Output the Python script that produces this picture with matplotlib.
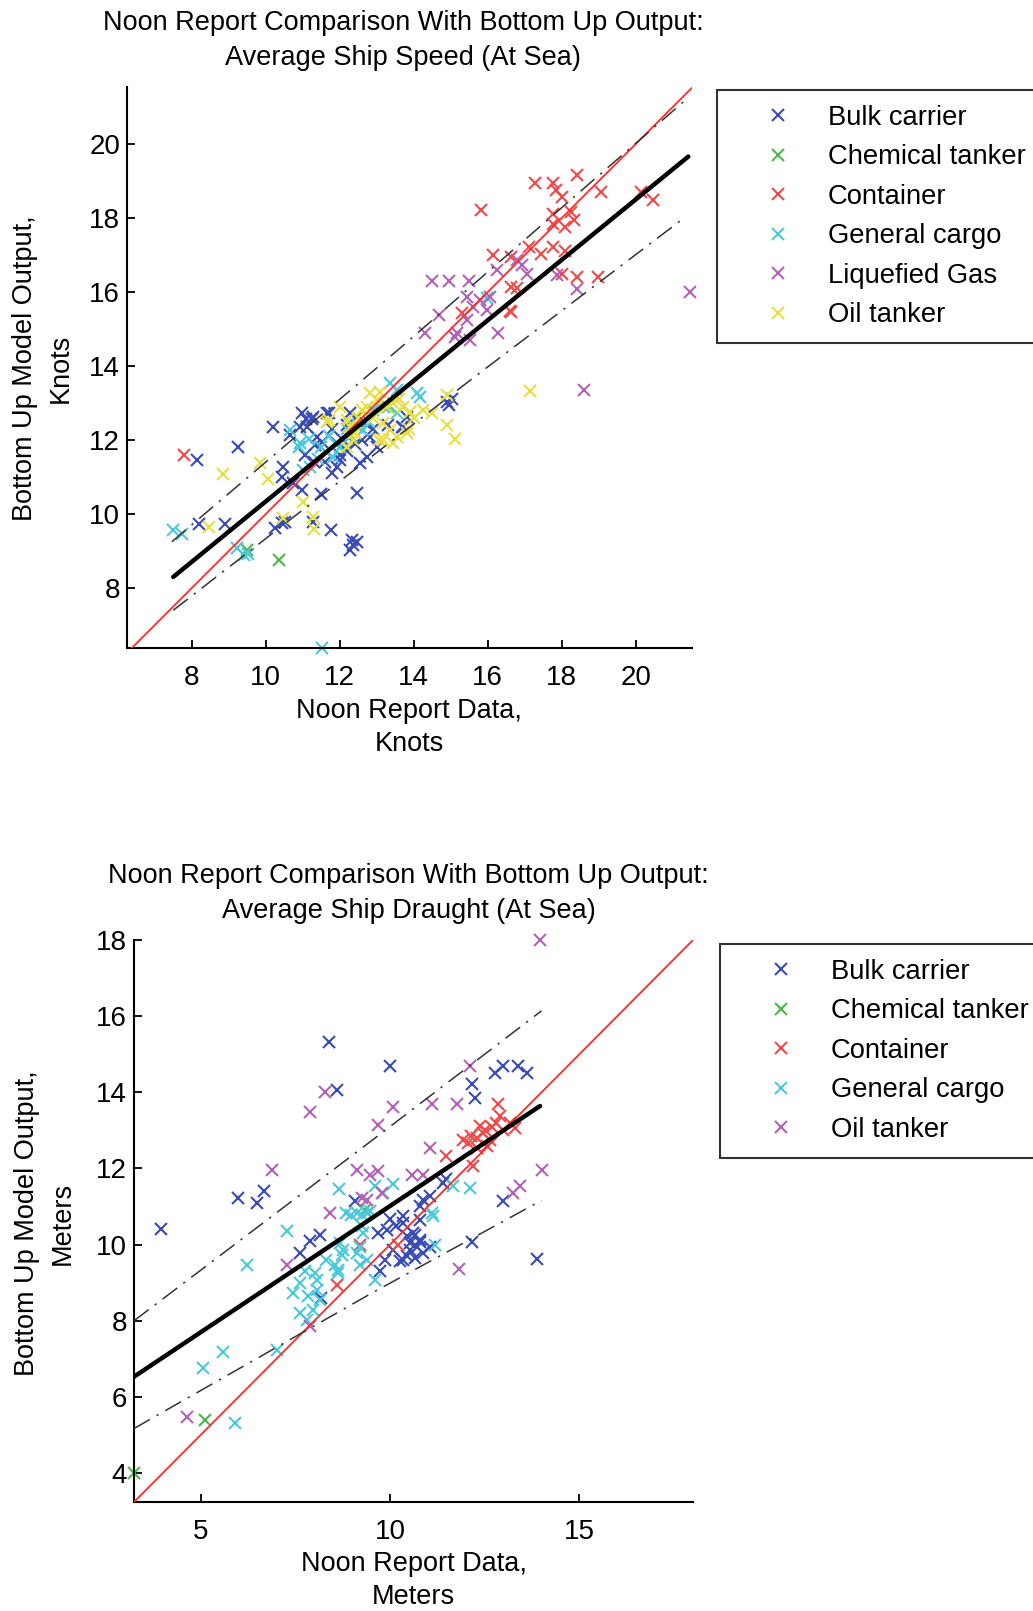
import matplotlib
matplotlib.use('Agg')
import matplotlib.pyplot as plt

plt.rcParams['font.family'] = ['Liberation Sans', 'DejaVu Sans']

# ---------------- data: speed (top) ----------------
speed_categories = ['Bulk carrier', 'Chemical tanker', 'Container', 'General cargo', 'Liquefied Gas', 'Oil tanker']

bulk_speed_x = [8.13, 9.26, 10.19, 10.46, 8.2, 8.9, 10.25, 10.52, 10.74, 10.97, 11.49, 11.29, 11.76, 12.32, 12.37,
                12.46, 12.28, 12.46, 10.97, 11.1, 11.29, 11.65, 11.25, 10.93, 11.11, 10.66, 11.7, 11.38, 11.52, 11.34,
                11.92, 12.1, 10.44, 11.79, 11.92, 10.44, 12.28, 12.46, 12.69, 12.6, 12.82, 13.0, 12.55, 12.73, 13.68,
                13.81, 14.9, 15.03, 14.94, 13.72, 12.2, 11.6, 12.0, 11.05, 12.0, 12.4, 11.8, 12.9, 13.3, 11.3, 12.2]
bulk_speed_y = [11.47, 11.8, 12.34, 11.26, 9.72, 9.72, 9.61, 9.79, 10.83, 10.65, 10.54, 9.79, 9.56, 9.29, 9.16,
                9.25, 9.02, 10.56, 12.72, 12.58, 12.61, 12.72, 12.58, 12.36, 12.36, 12.13, 12.72, 12.09, 11.95, 11.86,
                11.91, 12.0, 11.01, 11.1, 11.28, 9.75, 12.72, 12.63, 12.45, 12.0, 12.09, 11.82, 11.37, 11.55, 12.36,
                12.63, 13.03, 13.12, 12.94, 12.36, 11.7, 11.4, 11.45, 11.6, 11.6, 11.9, 12.3, 12.3, 12.4, 11.4, 12.4]

chem_speed_x = [9.48, 10.37, 13.3]
chem_speed_y = [9.02, 8.75, 12.9]

cont_speed_x = [7.8, 17.28, 17.77, 18.42, 17.85, 18.01, 19.07, 15.82, 17.77, 18.26, 18.34, 17.77, 18.1, 17.12,
                17.77, 17.45, 18.1, 16.14, 16.63, 16.63, 16.8, 18.42, 18.99, 18.01, 16.63, 20.13, 20.46, 15.3, 16.6]
cont_speed_y = [11.6, 18.95, 18.95, 19.16, 18.75, 18.57, 18.71, 18.21, 18.12, 18.17, 17.94, 17.85, 17.76, 17.22,
                17.22, 17.02, 17.11, 17.0, 16.95, 16.14, 16.1, 16.41, 16.41, 16.5, 15.47, 18.71, 18.49, 15.42, 15.5]

gen_speed_x = [7.5, 7.73, 9.21, 9.53, 9.4, 11.51, 10.65, 10.93, 10.89, 11.16, 11.65, 11.83, 11.2, 11.02, 12.46,
               12.64, 13.36, 13.54, 13.54, 14.08, 14.17, 15.97, 12.0, 12.3, 11.4, 11.7, 12.8, 11.9, 12.2, 12.5,
               11.5, 12.9, 13.2]
gen_speed_y = [9.58, 9.47, 9.07, 8.93, 8.9, 6.37, 12.27, 11.91, 11.82, 12.04, 11.64, 11.55, 11.28, 11.19, 12.36,
               12.27, 13.53, 13.35, 12.72, 13.26, 13.17, 15.83, 11.8, 12.1, 11.5, 12.1, 12.5, 11.9, 12.3, 12.4,
               11.8, 12.8, 12.9]

lng_speed_x = [14.49, 14.94, 15.48, 16.78, 16.92, 16.24, 17.05, 17.86, 16.06, 15.79, 15.43, 15.61, 15.97, 14.67,
               14.31, 15.12, 15.52, 16.29, 21.47, 18.42, 15.43, 18.6, 15.17]
lng_speed_y = [16.3, 16.3, 16.3, 16.87, 16.73, 16.6, 16.5, 16.46, 15.87, 15.78, 15.87, 15.6, 15.51, 15.38,
               14.88, 14.79, 14.7, 14.88, 16.01, 16.07, 15.24, 13.36, 14.88]

oil_speed_x = [8.85, 9.84, 10.05, 8.47, 10.47, 11.01, 11.27, 11.31, 11.65, 11.7, 12.01, 12.19, 12.28, 12.37, 12.19,
               12.82, 13.0, 12.73, 13.27, 13.45, 13.72, 13.9, 13.18, 13.36, 13.54, 13.81, 14.26, 14.49, 13.45, 13.05,
               13.18, 14.9, 14.9, 15.12, 17.13, 13.86, 12.6, 13.1, 12.4, 12.9, 13.6, 14.0, 12.5]
oil_speed_y = [11.07, 11.37, 10.96, 9.64, 9.88, 10.33, 9.93, 9.59, 12.49, 12.54, 12.9, 12.54, 12.36, 12.0, 11.82,
               13.26, 13.08, 12.9, 12.9, 12.99, 12.9, 12.76, 12.45, 12.27, 12.09, 12.18, 12.81, 12.72, 11.91, 12.0,
               12.0, 13.21, 12.4, 12.04, 13.33, 12.31, 12.8, 13.3, 12.2, 12.6, 13.1, 12.6, 12.6]

speed_fit_x = [7.5, 21.42]
speed_fit_y = [8.3, 19.66]
speed_upper_x = [7.46, 13.72, 21.29]
speed_upper_y = [9.25, 14.56, 21.14]
speed_lower_x = [7.5, 15.53, 21.29]
speed_lower_y = [7.4, 13.62, 17.99]

# ---------------- data: draught (bottom) ----------------
draught_categories = ['Bulk carrier', 'Chemical tanker', 'Container', 'General cargo', 'Oil tanker']

bulk_dr_x = [8.39, 8.61, 10.0, 5.99, 6.48, 6.67, 9.08, 12.77, 12.99, 13.39, 13.61, 12.16, 12.24, 12.99, 3.94,
             12.16, 13.87, 10.66, 10.79, 10.53, 10.35, 10.66, 10.88, 11.06, 10.79, 10.35, 8.15, 7.88, 7.62, 8.19,
             9.69, 9.91, 10.17, 10.35, 10.0, 10.44, 10.61, 10.79, 10.7, 10.53, 9.87, 9.73, 10.09, 10.26, 10.44,
             10.79, 10.88, 11.05, 11.41, 11.49]
bulk_dr_y = [15.33, 14.06, 14.69, 11.23, 11.08, 11.4, 11.14, 14.52, 14.69, 14.69, 14.52, 14.21, 13.86, 11.14, 10.41,
             10.08, 9.62, 10.26, 10.08, 9.86, 9.6, 9.65, 9.78, 9.95, 10.65, 10.74, 10.26, 10.09, 9.78, 8.6,
             10.3, 10.39, 10.48, 10.57, 10.66, 10.22, 10.3, 10.13, 9.95, 10.04, 9.6, 9.3, 9.87, 9.56, 9.69,
             11.01, 11.18, 11.27, 11.62, 11.71]

chem_dr_x = [5.11, 3.24, 9.35]
chem_dr_y = [5.39, 3.99, 10.9]

cont_dr_x = [12.86, 11.49, 11.93, 12.15, 12.37, 12.46, 12.64, 12.81, 12.99, 13.17, 12.9, 13.3, 12.07, 12.55, 12.29,
             12.2, 8.59, 12.5, 12.7, 12.3, 9.2, 10.2]
cont_dr_y = [13.68, 12.32, 12.76, 12.85, 13.11, 12.94, 12.76, 13.2, 13.02, 13.2, 13.38, 13.07, 12.67, 12.59, 12.8,
             12.06, 8.95, 13.0, 13.1, 12.55, 10.0, 10.0]

gen_dr_x = [8.64, 9.6, 10.09, 9.82, 12.11, 8.85, 8.98, 9.12, 9.25, 9.38, 9.47, 7.27, 7.75, 8.02, 8.06, 7.62, 7.44,
            7.84, 8.06, 7.97, 7.62, 7.8, 8.15, 8.63, 11.14, 11.19, 11.67, 9.25, 9.29, 9.2, 9.12, 9.38, 9.2, 8.72,
            8.68, 8.76, 8.32, 8.54, 8.63, 9.6, 6.22, 5.6, 5.05, 7.01, 5.91, 11.1]
gen_dr_y = [11.45, 11.54, 11.58, 11.36, 11.49, 10.83, 10.79, 10.83, 10.79, 10.83, 10.87, 10.35, 9.3, 9.25, 9.08, 8.99,
            8.73, 8.64, 8.81, 8.29, 8.2, 8.02, 8.55, 9.34, 10.74, 9.99, 11.53, 10.48, 10.3, 9.95, 9.78, 9.6, 9.47,
            9.73, 10.04, 9.87, 9.6, 9.47, 9.25, 9.08, 9.47, 7.19, 6.75, 7.23, 5.32, 10.83]

oil_dr_x = [8.28, 7.89, 10.09, 9.67, 6.89, 9.12, 9.47, 9.69, 9.78, 9.25, 9.38, 13.96, 12.11, 11.1, 11.76, 11.06,
            10.57, 10.88, 14.0, 13.26, 13.43, 8.42, 7.27, 11.83, 7.88, 4.63]
oil_dr_y = [14.01, 13.47, 13.62, 13.13, 11.97, 11.97, 11.84, 11.93, 11.36, 11.23, 11.18, 18.0, 14.69, 13.68, 13.68,
            12.54, 11.84, 11.84, 11.97, 11.36, 11.54, 10.83, 9.47, 9.36, 7.85, 5.48]

draught_fit_x = [3.24, 13.96]
draught_fit_y = [6.53, 13.64]
draught_upper_x = [3.24, 9.29, 14.0]
draught_upper_y = [8.0, 12.56, 16.14]
draught_lower_x = [3.24, 9.47, 14.0]
draught_lower_y = [5.17, 8.7, 11.16]

colors = ['#3a4cb4', '#4cb848', '#f04a4a', '#4cc8d8', '#b462b8', '#e6e040']

W, H = 1033, 1611
fig = plt.figure(figsize=(W / 100, H / 100), dpi=100)


def style_axes(ax):
    for s in ['top', 'right']:
        ax.spines[s].set_visible(False)
    for s in ['left', 'bottom']:
        ax.spines[s].set_linewidth(1.5)
    ax.tick_params(direction='in', length=6, width=1.3, labelsize=20)
    ax.tick_params(axis='x', pad=12)
    ax.tick_params(axis='y', pad=5)


def draw_panel(ax, series, cats, cols, fit, upper, lower, xlim, ylim, xticks, yticks,
               title, title_x, ylabel, xlabel, legend_anchor):
    handles = []
    for (xs, ys), c, name in zip(series, cols, cats):
        h, = ax.plot(xs, ys, linestyle='none', marker='x', markersize=9, markeredgewidth=1.5,
                     color=c, label=name, clip_on=False, zorder=2)
        handles.append(h)
    ax.axline((0, 0), slope=1, color='#ff2a2a', lw=1.3, zorder=3)
    ax.plot(fit[0], fit[1], color='black', lw=3.2, zorder=4, solid_capstyle='round')
    for bx, by in (upper, lower):
        ax.plot(bx, by, color='#333333', lw=1.1, dashes=(12, 5, 1.5, 5), zorder=3)
    ax.set_xlim(*xlim)
    ax.set_ylim(*ylim)
    ax.set_xticks(xticks)
    ax.set_yticks(yticks)
    style_axes(ax)
    ax.set_title(title, fontsize=19.5, x=title_x, pad=16, linespacing=1.44)
    ax.set_ylabel(ylabel, fontsize=19.5, linespacing=1.47)
    ax.set_xlabel(xlabel, fontsize=19.5, linespacing=1.34, va='center')
    leg = fig.legend(handles=handles, loc='upper left', bbox_to_anchor=legend_anchor,
                     bbox_transform=fig.transFigure, mode='expand', fontsize=19.7, frameon=True,
                     fancybox=False, edgecolor='black', borderpad=0.55, handlelength=3.35,
                     handletextpad=0.16, labelspacing=0.49, borderaxespad=0)
    leg.get_frame().set_linewidth(1.5)
    return ax


ax1 = fig.add_axes([127 / W, 1 - 648 / H, 565 / W, 561 / H])
draw_panel(ax1,
           [(bulk_speed_x, bulk_speed_y), (chem_speed_x, chem_speed_y), (cont_speed_x, cont_speed_y),
            (gen_speed_x, gen_speed_y), (lng_speed_x, lng_speed_y), (oil_speed_x, oil_speed_y)],
           speed_categories, colors, (speed_fit_x, speed_fit_y), (speed_upper_x, speed_upper_y),
           (speed_lower_x, speed_lower_y), (6.25, 21.52), (6.38, 21.54),
           [8, 10, 12, 14, 16, 18, 20], [8, 10, 12, 14, 16, 18, 20],
           'Noon Report Comparison With Bottom Up Output:\nAverage Ship Speed (At Sea)', 0.489,
           'Bottom Up Model Output,\nKnots', 'Noon Report Data,\nKnots',
           (717 / W, 1 - 90 / H, 340 / W, 0))
ax1.yaxis.set_label_coords(-0.094, 0.499)
ax1.xaxis.set_label_coords(0.5, -0.141)

ax2 = fig.add_axes([134 / W, 1 - 1502 / H, 559 / W, 562 / H])
draw_panel(ax2,
           [(bulk_dr_x, bulk_dr_y), (chem_dr_x, chem_dr_y), (cont_dr_x, cont_dr_y),
            (gen_dr_x, gen_dr_y), (oil_dr_x, oil_dr_y)],
           draught_categories, colors[:5], (draught_fit_x, draught_fit_y), (draught_upper_x, draught_upper_y),
           (draught_lower_x, draught_lower_y), (3.24, 18.0), (3.24, 18.0),
           [5, 10, 15], [4, 6, 8, 10, 12, 14, 16, 18],
           'Noon Report Comparison With Bottom Up Output:\nAverage Ship Draught (At Sea)', 0.491,
           'Bottom Up Model Output,\nMeters', 'Noon Report Data,\nMeters',
           (720 / W, 1 - 944 / H, 340 / W, 0))
ax2.yaxis.set_label_coords(-0.104, 0.496)
ax2.xaxis.set_label_coords(0.5, -0.1397)

fig.savefig('out.png', dpi=100)
